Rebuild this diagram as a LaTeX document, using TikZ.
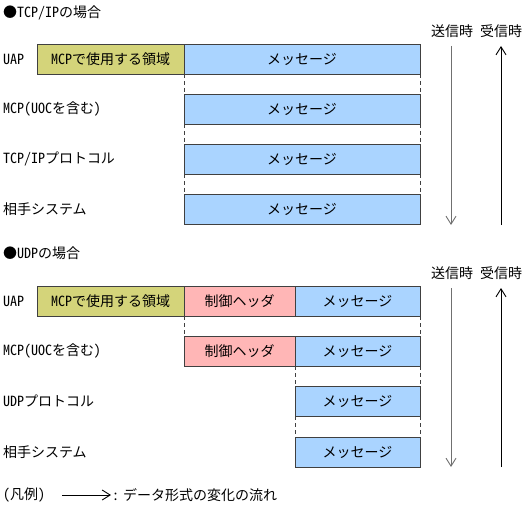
\documentclass[tikz,border=0pt]{standalone}
\usepackage{fontspec}
\setmainfont{Noto Sans CJK JP}
\newfontfamily\hwfont{Noto Sans CJK JP}[RawFeature=+hwid]
\newcommand{\hw}[1]{{\hwfont #1}}
\usetikzlibrary{arrows.meta}
\definecolor{boxline}{HTML}{404040}
\definecolor{msgblue}{HTML}{AAD4FF}
\definecolor{mcpyellow}{HTML}{D4D47A}
\definecolor{hdrpink}{HTML}{FFB6B6}
\definecolor{sendgray}{HTML}{707070}
\tikzset{
  every node/.style={font=\fontsize{14pt}{16pt}\selectfont, inner sep=0pt, outer sep=0pt},
  fld/.style={draw=boxline, line width=0.9pt, minimum height=30pt, anchor=north west},
  yfld/.style={fld, fill=mcpyellow, minimum width=147pt},
  bfld/.style={fld, fill=msgblue, minimum width=236pt},
  pfld/.style={fld, fill=hdrpink, minimum width=111pt},
  sfld/.style={fld, fill=msgblue, minimum width=125pt},
  lbl/.style={anchor=west},
  dashline/.style={draw=boxline, line width=0.8pt, dash pattern=on 4pt off 3pt},
  sendarrow/.style={draw=sendgray, line width=0.9pt, -{Straight Barb[length=8pt,width=10pt]}},
  recvarrow/.style={draw=black, line width=0.9pt, -{Straight Barb[length=8pt,width=10pt]}},
}
\begin{document}
\begin{tikzpicture}[x=1pt,y=-1pt]
\useasboundingbox (0,0) rectangle (525,508);
% ---------- TCP/IP ----------
\node[lbl] (ttitle) at (3,13) {●\hw{TCP/IP}の場合};
\node (tsend) at (452,31) {送信時};
\node (trecv) at (501,31) {受信時};
\node[lbl] (tl1) at (3,59) {\hw{UAP}};
\node[lbl] (tl2) at (3,109) {\hw{MCP(UOC}を含む\hw{)}};
\node[lbl] (tl3) at (3,159) {\hw{TCP/IP}プロトコル};
\node[lbl] (tl4) at (3,209) {相手システム};
\node[yfld] (ty1) at (37,44) {\hw{MCP}で使用する領域};
\node[bfld] (tb1) at (184,44) {メッセージ};
\node[bfld] (tb2) at (184,94) {メッセージ};
\node[bfld] (tb3) at (184,144) {メッセージ};
\node[bfld] (tb4) at (184,194) {メッセージ};
\foreach \a/\b in {tb1/tb2,tb2/tb3,tb3/tb4}{
  \draw[dashline] (\a.south west) -- (\b.north west);
  \draw[dashline] (\a.south east) -- (\b.north east);
}
\coordinate (ts0) at (451,46);
\coordinate (ts1) at (451,225);
\coordinate (tr0) at (501,225);
\coordinate (tr1) at (501,46);
\draw[sendarrow] (ts0) -- (ts1);
\draw[recvarrow] (tr0) -- (tr1);
% ---------- UDP ----------
\node[lbl] (utitle) at (3,253) {●\hw{UDP}の場合};
\node (usend) at (452,273) {送信時};
\node (urecv) at (501,273) {受信時};
\node[lbl] (ul1) at (3,301) {\hw{UAP}};
\node[lbl] (ul2) at (3,351) {\hw{MCP(UOC}を含む\hw{)}};
\node[lbl] (ul3) at (3,401) {\hw{UDP}プロトコル};
\node[lbl] (ul4) at (3,452) {相手システム};
\node[yfld] (uy1) at (37,286) {\hw{MCP}で使用する領域};
\node[pfld] (up1) at (184,286) {制御ヘッダ};
\node[sfld] (ub1) at (295,286) {メッセージ};
\node[pfld] (up2) at (184,336) {制御ヘッダ};
\node[sfld] (ub2) at (295,336) {メッセージ};
\node[sfld] (ub3) at (295,386) {メッセージ};
\node[sfld] (ub4) at (295,437) {メッセージ};
\draw[dashline] (up1.south west) -- (up2.north west);
\draw[dashline] (ub1.south east) -- (ub2.north east);
\foreach \a/\b in {ub2/ub3,ub3/ub4}{
  \draw[dashline] (\a.south west) -- (\b.north west);
  \draw[dashline] (\a.south east) -- (\b.north east);
}
\coordinate (us0) at (451,288);
\coordinate (us1) at (451,467);
\coordinate (ur0) at (501,467);
\coordinate (ur1) at (501,288);
\draw[sendarrow] (us0) -- (us1);
\draw[recvarrow] (ur0) -- (ur1);
% ---------- legend ----------
\node[lbl] (leg) at (3,495) {\hw{(}凡例\hw{)}};
\coordinate (la0) at (62,495);
\coordinate (la1) at (111,495);
\draw[line width=0.9pt, -{Straight Barb[length=8pt,width=10pt]}] (la0) -- (la1);
\node[lbl] (legt) at (112,495) {\hw{:} データ形式の変化の流れ};
\end{tikzpicture}
\end{document}
